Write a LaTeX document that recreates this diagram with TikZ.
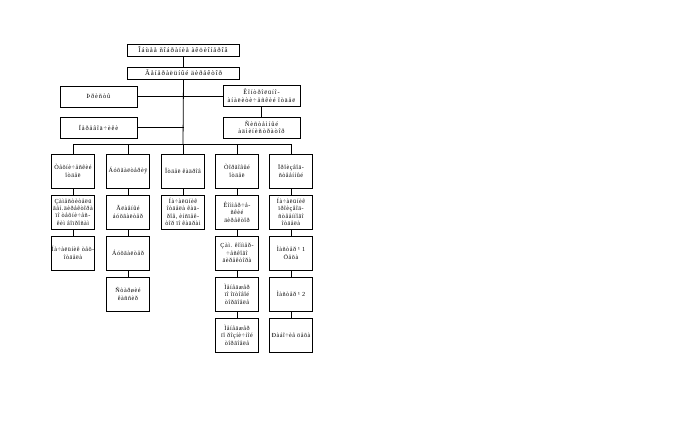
\documentclass[tikz,border=0pt]{standalone}
\usepackage{fontspec}
\setmainfont{Liberation Serif}
\newfontfamily\boxfont{Liberation Serif}[LetterSpace=8]
\newfontfamily\bigboxfont{Liberation Serif}[LetterSpace=14]
\tikzset{
  bx/.style={draw, line width=0.8pt, align=center, inner sep=0pt, font=\boxfont\fontsize{6.2}{7.4}\selectfont},
  colbox/.style={bx, minimum width=43pt, minimum height=34pt},
  wide/.style={bx, minimum width=77pt, minimum height=21pt, font=\bigboxfont\fontsize{6.4}{7.6}\selectfont},
  topbox/.style={bx, minimum width=112pt, minimum height=12pt, font=\bigboxfont\fontsize{6.8}{8}\selectfont},
  ln/.style={line width=0.8pt}
}
\begin{document}
\begin{tikzpicture}[x=1pt,y=-1pt]
\fill[white] (0,0) rectangle (694,436);
\useasboundingbox (0,0) rectangle (694,436);
% top
\node[topbox] (gm) at (183,50) {Îáùåå ñîáðàíèå àêöèîíåðîâ};
\node[topbox] (gd) at (183.5,73) {Ãåíåðàëüíûé äèðåêòîð};
\node[wide] (ur) at (98.5,96.5) {Þðèñòû};
\node[wide] (pe) at (98.5,127.5) {Ïåðåâîä÷èêè};
\node[wide] (ko) at (261.5,96) {Êîíòðîëüíî-\\àíàëèòè÷åñêèé îòäåë};
\node[wide] (sa) at (261.5,127.5) {Ñèñòåìíûé\\àäìèíèñòðàòîð};
\coordinate (bus) at (183,144);
% column 1
\node[colbox] (a1) at (73,171) {Òåõíè÷åñêèé\\îòäåë};
\node[colbox] (a2) at (73,212) {Çàìåñòèòåëü\\ãåí.äèðåêòîðà\\ïî òåõíè÷åñ-\\êèì âîïðîñàì};
\node[colbox] (a3) at (73,253) {Íà÷àëüíèê òåõ-\\îòäåëà};
% column 2
\node[colbox] (b1) at (128,171) {Áóõãàëòåðèÿ};
\node[colbox] (b2) at (128,212) {Ãëàâíûé\\áóõãàëòåð};
\node[colbox] (b3) at (128,253) {Áóõãàëòåð};
\node[colbox] (b4) at (128,294) {Ñòàðøèé\\êàññèð};
% column 3
\node[colbox] (c1) at (183,171) {Îòäåë êàäðîâ};
\node[colbox] (c2) at (183,212) {Íà÷àëüíèê\\îòäåëà êàä-\\ðîâ, èíñïåê-\\òîð ïî êàäðàì};
% column 4
\node[colbox] (d1) at (237,171) {Òîðãîâûé\\îòäåë};
\node[colbox] (d2) at (237,212) {Êîììåð÷å-\\ñêèé\\äèðåêòîð};
\node[colbox] (d3) at (237,253) {Çàì. êîììåð-\\÷åñêîãî\\äèðåêòîðà};
\node[colbox] (d4) at (237,294) {Ìåíåäæåð\\ïî îïòîâîé\\òîðãîâëå};
\node[colbox] (d5) at (237,335) {Ìåíåäæåð\\ïî ðîçíè÷íîé\\òîðãîâëå};
% column 5
\node[colbox] (e1) at (291,171) {Ïðîèçâîä-\\ñòâåííûé};
\node[colbox] (e2) at (291,212) {Íà÷àëüíèê\\ïðîèçâîä-\\ñòâåííîãî\\îòäåëà};
\node[colbox] (e3) at (291,253) {Ìàñòåð ¹ 1\\Öåõà};
\node[colbox] (e4) at (291,294) {Ìàñòåð ¹ 2};
\node[colbox] (e5) at (291,335) {Ðàáî÷èå öåõà};
% connectors
\draw[ln] (gm.south) -- (gd.south |- gm.south) -- (gd.north);
\draw[ln] (gd.south) -- (bus);
\draw[ln] (ur.east) -- (gd.south |- ur.east);
\draw[ln] (pe.east) -- (gd.south |- pe.east);
\draw[ln] (ko.west) -- (gd.south |- ko.west);
\draw[ln] (ko.south) -- (sa.north);
\foreach \n in {a1,b1,c1,d1,e1} \draw[ln] (bus) -| (\n.north);
\draw[ln] (a1) -- (a2) -- (a3);
\draw[ln] (b1) -- (b2) -- (b3) -- (b4);
\draw[ln] (c1) -- (c2);
\draw[ln] (d1) -- (d2) -- (d3) -- (d4) -- (d5);
\draw[ln] (e1) -- (e2) -- (e3) -- (e4) -- (e5);
\end{tikzpicture}
\end{document}
